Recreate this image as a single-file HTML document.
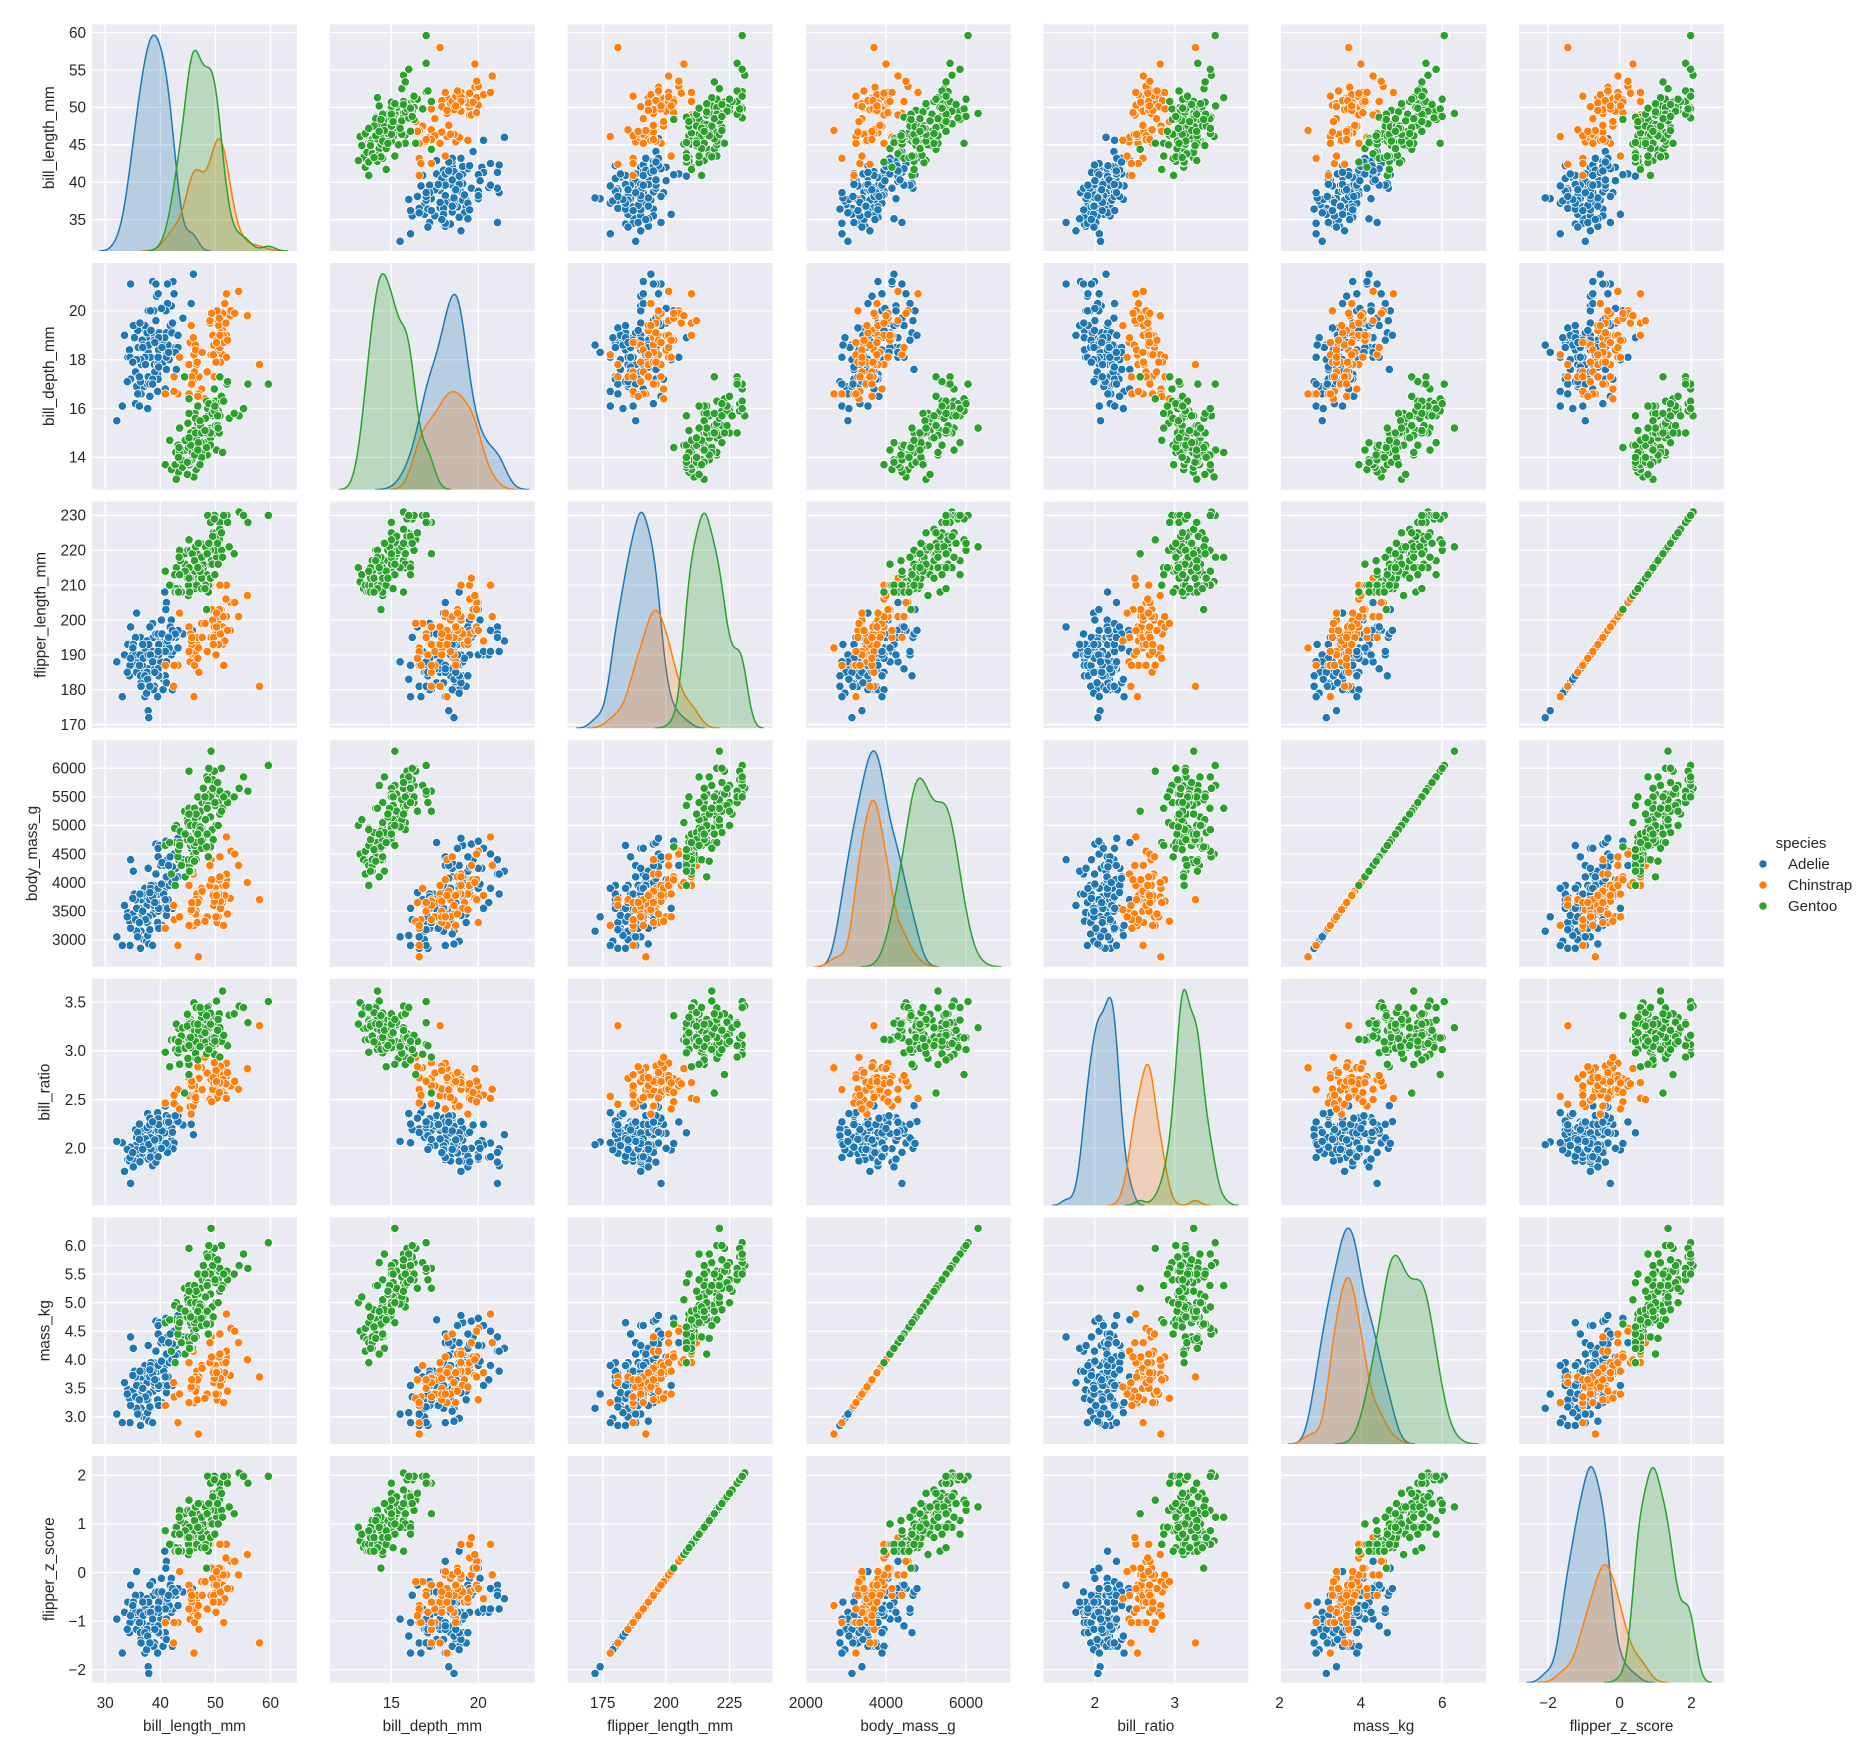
<!DOCTYPE html>
<html><head><meta charset="utf-8"><title>Penguins pairplot</title>
<style>
html,body{margin:0;padding:0;background:#fff;}
svg{display:block;font-family:"Liberation Sans","DejaVu Sans",sans-serif;}
</style></head>
<body>
<svg id="chart" width="1867" height="1750" viewBox="0 0 1867 1750" xmlns="http://www.w3.org/2000/svg">
<g id="legend">
<text x="1801" y="848" text-anchor="middle" font-size="15" fill="#262626">species</text>
<g><circle cx="1763" cy="864" r="4.2" fill="#1f77b4" stroke="#fff" stroke-width="0.8"/><text x="1788" y="869" font-size="15" fill="#262626">Adelie</text></g>
<g><circle cx="1763" cy="885" r="4.2" fill="#ff7f0e" stroke="#fff" stroke-width="0.8"/><text x="1788" y="890" font-size="15" fill="#262626">Chinstrap</text></g>
<g><circle cx="1763" cy="906" r="4.2" fill="#2ca02c" stroke="#fff" stroke-width="0.8"/><text x="1788" y="911" font-size="15" fill="#262626">Gentoo</text></g>
</g>
</svg>
<script>
// data: [bill_length_mm, bill_depth_mm, flipper_length_mm, body_mass_g]
const adelie = [
[39.1,18.7,181,3750],[39.5,17.4,186,3800],[40.3,18.0,195,3250],[36.7,19.3,193,3450],[39.3,20.6,190,3650],
[38.9,17.8,181,3625],[39.2,19.6,195,4675],[34.1,18.1,193,3475],[42.0,20.2,190,4250],[37.8,17.1,186,3300],
[37.8,17.3,180,3700],[41.1,17.6,182,3200],[38.6,21.2,191,3800],[34.6,21.1,198,4400],[36.6,17.8,185,3700],
[38.7,19.0,195,3450],[42.5,20.7,197,4500],[34.4,18.4,184,3325],[46.0,21.5,194,4200],[37.8,18.3,174,3400],
[37.7,18.7,180,3600],[35.9,19.2,189,3800],[38.2,18.1,185,3950],[38.8,17.2,180,3800],[35.3,18.9,187,3800],
[40.6,18.6,183,3550],[40.5,17.9,187,3200],[37.9,18.6,172,3150],[40.5,18.9,180,3950],[39.5,16.7,178,3250],
[37.2,18.1,178,3900],[39.5,17.8,188,3300],[40.9,18.9,184,3900],[36.4,17.0,195,3325],[39.2,21.1,196,4150],
[38.8,20.0,190,3950],[42.2,18.5,180,3550],[37.6,19.3,181,3300],[39.8,19.1,184,4650],[36.5,18.0,182,3150],
[40.8,18.4,195,3900],[36.0,18.5,186,3100],[44.1,19.7,196,4400],[37.0,16.9,185,3000],[39.6,18.8,190,4600],
[41.1,19.0,182,3425],[37.5,18.9,179,2975],[42.3,21.2,191,4150],[39.6,17.7,186,3500],[40.1,18.9,188,4300],
[35.0,17.9,190,3450],[42.0,19.5,200,4050],[34.5,18.1,187,2900],[41.4,18.6,191,3700],[39.0,17.5,186,3550],
[40.6,18.8,193,3800],[36.5,16.6,181,2850],[37.6,19.1,194,3750],[35.7,16.9,185,3150],[41.3,21.1,195,4400],
[37.6,17.0,185,3600],[41.1,18.2,192,4050],[36.4,17.1,184,2850],[41.6,18.0,192,3950],[35.5,16.2,195,3350],
[41.1,19.1,188,4100],[35.9,16.6,190,3050],[41.8,19.4,198,4450],[33.5,19.0,190,3600],[39.7,18.4,190,3900],
[39.6,17.2,196,3550],[45.8,18.9,197,4150],[35.5,17.5,190,3700],[42.8,18.5,195,4250],[40.9,16.8,191,3700],
[37.2,19.4,184,3900],[36.2,16.1,187,3550],[42.1,19.1,195,4000],[34.6,17.2,189,3200],[42.9,17.6,196,4700],
[36.7,18.8,187,3800],[35.1,19.4,193,4200],[37.3,17.8,191,3350],[41.3,20.3,194,3550],[36.3,19.5,190,3800],
[36.9,18.6,189,3500],[38.3,19.2,189,3950],[38.9,18.8,190,3600],[35.7,18.0,202,3550],[41.1,18.1,205,4300],
[34.0,17.1,185,3400],[39.6,18.1,186,4450],[36.2,17.3,187,3300],[40.8,18.9,208,4300],[38.1,18.6,190,3700],
[40.3,18.5,196,4350],[33.1,16.1,178,2900],[43.2,18.5,192,4100],[35.0,17.9,192,3725],[41.0,20.0,203,4725],
[37.7,16.0,183,3075],[37.8,20.0,190,4250],[37.9,18.6,193,2925],[39.7,18.9,184,3550],[38.6,17.2,199,3750],
[38.2,20.0,190,3900],[38.1,17.0,181,3175],[43.2,19.0,197,4775],[38.1,16.5,198,3825],[45.6,20.3,191,4600],
[39.7,17.7,193,3200],[42.2,19.5,197,4275],[39.6,20.7,191,3900],[42.7,18.3,196,4075],[32.1,15.5,188,3050],
[38.6,17.0,188,2900],[40.2,20.1,200,3975],[36.8,18.5,193,3500],[41.5,18.3,195,4300],[39.0,18.7,185,3650]
];
const chinstrap = [
[46.5,17.9,192,3500],[50.0,19.5,196,3900],[51.3,19.2,193,3650],[45.4,18.7,188,3525],[52.7,19.8,197,3725],
[45.2,17.8,198,3950],[46.1,18.2,178,3250],[51.3,18.2,197,3750],[46.0,18.9,195,4150],[51.3,19.9,198,3700],
[46.6,17.8,193,3800],[51.7,20.3,194,3775],[47.0,17.3,185,3700],[52.0,18.1,201,4050],[45.9,17.1,190,3575],
[50.5,19.6,201,4050],[50.3,20.0,197,3300],[58.0,17.8,181,3700],[46.4,18.6,190,3450],[49.2,18.2,195,4400],
[42.4,17.3,181,3600],[48.5,17.5,191,3400],[43.2,16.6,187,2900],[50.6,19.4,193,3800],[46.7,17.9,195,3300],
[52.0,19.0,197,4150],[50.5,18.4,200,3400],[49.5,19.0,200,3800],[46.4,18.4,191,3700],[52.8,20.0,205,4550],
[40.9,16.6,187,3200],[54.2,20.8,201,4300],[42.5,16.7,187,3350],[51.0,18.8,203,4100],[49.7,18.6,195,3600],
[47.5,16.8,199,3900],[47.6,18.3,195,3850],[52.0,20.7,210,4800],[46.9,16.6,192,2700],[53.5,19.9,205,4500],
[49.0,19.5,210,3950],[46.2,17.5,187,3650],[50.9,19.1,196,3550],[45.5,17.0,196,3500],[50.9,17.9,196,3675],
[50.8,18.5,201,4450],[50.1,17.9,190,3400],[49.0,19.6,212,4300],[51.5,18.7,187,3250],[49.8,17.3,198,3675],
[48.1,16.4,199,3325],[51.4,19.0,201,3950],[45.7,17.3,193,3600],[50.7,19.7,203,4050],[42.5,17.3,187,3350],
[52.2,18.8,197,3450],[45.2,16.6,191,3250],[49.3,19.9,203,4050],[50.2,18.8,202,3800],[45.6,19.4,194,3525],
[51.9,19.5,206,3950],[46.8,16.5,189,3650],[45.7,17.0,195,3650],[55.8,19.8,207,4000],[43.5,18.1,202,3400],
[49.6,18.2,193,3775],[50.8,19.0,210,4100],[50.2,18.7,198,3775]
];
const gentoo = [
[46.1,13.2,211,4500],[50.0,16.3,230,5700],[48.7,14.1,210,4450],[50.0,15.2,218,5700],[47.6,14.5,215,5400],
[46.5,13.5,210,4550],[45.4,14.6,211,4800],[46.7,15.3,219,5200],[43.3,13.4,209,4400],[46.8,15.4,215,5150],
[40.9,13.7,214,4650],[49.0,16.1,216,5550],[45.5,13.7,214,4650],[48.4,14.6,213,5850],[45.8,14.6,210,4200],
[49.3,15.7,217,5850],[42.0,13.5,210,4150],[49.2,15.2,221,6300],[46.2,14.5,209,4800],[48.7,15.1,222,5350],
[50.2,14.3,218,5700],[45.1,14.5,215,5000],[46.5,14.5,213,4400],[46.3,15.8,215,5050],[42.9,13.1,215,5000],
[46.1,15.1,215,5100],[44.5,14.3,216,4100],[47.8,15.0,215,5650],[48.2,14.3,210,4600],[50.0,15.3,220,5550],
[47.3,15.3,222,5250],[42.8,14.2,209,4700],[45.1,14.5,207,5050],[59.6,17.0,230,6050],[49.1,14.8,220,5150],
[48.4,16.3,220,5400],[42.6,13.7,213,4950],[44.4,17.3,219,5250],[44.0,13.6,208,4350],[48.7,15.7,208,5350],
[42.7,13.7,208,3950],[49.6,16.0,225,5700],[45.3,13.7,210,4300],[49.6,15.0,216,4750],[50.5,15.9,222,5550],
[43.6,13.9,217,4900],[45.5,13.9,210,4200],[50.5,15.9,225,5400],[44.9,13.3,213,5100],[45.2,15.8,215,5300],
[46.6,14.2,210,4850],[48.5,14.1,220,5300],[45.1,14.4,210,4400],[50.1,15.0,225,5000],[46.5,14.4,217,4900],
[45.0,15.4,220,5050],[43.8,13.9,208,4300],[45.5,15.0,220,5000],[43.2,14.5,208,4450],[50.4,15.3,224,5550],
[45.3,13.8,208,4200],[46.2,14.9,221,5300],[45.7,13.9,214,4400],[54.3,15.7,231,5650],[45.8,14.2,219,4700],
[49.8,16.8,230,5700],[46.2,14.4,214,4650],[49.5,16.2,229,5800],[43.5,14.2,220,4700],[50.7,15.0,223,5550],
[47.7,15.0,216,4750],[46.4,15.6,221,5000],[48.2,15.6,221,5100],[46.5,14.8,217,5200],[46.4,15.0,216,4700],
[48.6,16.0,230,5800],[47.5,14.2,209,4600],[51.1,16.3,220,6000],[45.2,13.8,215,4750],[45.2,16.4,223,5950],
[49.1,14.5,212,4625],[52.5,15.6,221,5450],[47.4,14.6,212,4725],[50.0,15.9,224,5350],[44.9,13.8,212,4750],
[50.8,17.3,228,5600],[43.4,14.4,218,4600],[51.3,14.2,218,5300],[47.5,14.0,212,4875],[52.1,17.0,230,5550],
[47.5,15.0,218,4950],[52.2,17.1,228,5400],[45.5,14.5,212,4750],[49.5,16.1,224,5650],[44.5,14.7,214,4850],
[50.8,15.7,226,5200],[49.4,15.8,216,4925],[46.9,14.6,222,4875],[48.4,14.4,203,4625],[51.1,16.5,225,5250],
[48.5,15.0,219,4850],[55.9,17.0,228,5600],[47.2,15.5,215,4975],[49.1,15.0,228,5500],[46.8,16.1,215,5500],
[41.7,14.7,210,4700],[53.4,15.8,219,5500],[43.3,14.0,208,4575],[48.1,15.1,209,5500],[50.5,15.2,216,5000],
[49.8,15.9,229,5950],[43.5,15.2,213,4650],[51.5,16.3,230,5500],[46.2,14.1,217,4375],[55.1,16.0,230,5850],
[48.8,16.2,222,6000],[47.2,13.7,214,4925],[46.8,14.3,215,4850],[50.4,15.7,222,5750],[45.2,14.8,212,5200],
[49.9,16.1,213,5400]
];
const speciesNames = ["Adelie","Chinstrap","Gentoo"];
const speciesColors = ["#1f77b4","#ff7f0e","#2ca02c"];
const varNames = ["bill_length_mm","bill_depth_mm","flipper_length_mm","body_mass_g","bill_ratio","mass_kg","flipper_z_score"];
const colLimits = [[27.6,64.8],[11.46,23.25],[161.2,242],[1990,7110],[1.355,3.92],[2.04,7.08],[-2.81,2.91]];
const rowLimits = [[30.8,61.1],[12.68,21.96],[168.97,233.96],[2526,6492],[1.414,3.739],[2.526,6.492],[-2.265,2.397]];
const tickVals = [
 [30,35,40,45,50,55,60],[14,16,18,20],[170,180,190,200,210,220,230],[3000,3500,4000,4500,5000,5500,6000],
 [2.0,2.5,3.0,3.5],[3.0,3.5,4.0,4.5,5.0,5.5,6.0],[-2,-1,0,1,2]];
const xTickVals = [[30,40,50,60],[15,20],[175,200,225],[2000,4000,6000],[2,3],[2,4,6],[-2,0,2]];

const NS="http://www.w3.org/2000/svg";
const svg=document.getElementById('chart');
const PL=92, PW=205, PPX=237.83, PT=24.4, PH=226.6, PPY=238.6;
function mk(tag,attrs,parent){const e=document.createElementNS(NS,tag);for(const k in attrs)e.setAttribute(k,attrs[k]);(parent||svg).appendChild(e);return e;}

const allFlip=[...adelie,...chinstrap,...gentoo].map(r=>r[2]);
const fMean=allFlip.reduce((a,b)=>a+b,0)/allFlip.length;
const fStd=Math.sqrt(allFlip.reduce((a,b)=>a+(b-fMean)*(b-fMean),0)/(allFlip.length-1));
function derive(r){return [r[0],r[1],r[2],r[3],r[0]/r[1],r[3]/1000,(r[2]-fMean)/fStd];}
const groups=[adelie.map(derive),chinstrap.map(derive),gentoo.map(derive)];
const N=groups.reduce((a,g)=>a+g.length,0);

function fmtY(v,vi){ if(vi===4||vi===5) return v.toFixed(1); return (v<0?"\u2212"+Math.abs(v):String(v)); }
function fmtX(v){ return (v<0?"\u2212"+Math.abs(v):String(v)); }
function xScale(c,v){const l=colLimits[c];return PL+c*PPX+(v-l[0])/(l[1]-l[0])*PW;}
function yScale(r,v){const l=rowLimits[r];const top=PT+r*PPY;return top+PH-(v-l[0])/(l[1]-l[0])*PH;}

function kde(vals){
 const n=vals.length;const m=vals.reduce((a,b)=>a+b,0)/n;
 const sd=Math.sqrt(vals.reduce((a,b)=>a+(b-m)*(b-m),0)/(n-1));
 const bw=sd*Math.pow(n,-0.2);
 const lo=Math.min(...vals)-3*bw, hi=Math.max(...vals)+3*bw;
 const xs=[],ys=[];
 for(let i=0;i<200;i++){const x=lo+(hi-lo)*i/199;let s=0;for(const v of vals){const z=(x-v)/bw;s+=Math.exp(-0.5*z*z);}
  xs.push(x);ys.push(s/(n*bw*Math.sqrt(2*Math.PI))*(n/N));}
 return {xs,ys};
}

for(let r=0;r<7;r++){
 for(let c=0;c<7;c++){
  const x0=PL+c*PPX, y0=PT+r*PPY;
  const g=mk('g',{});
  
  
  const bg=mk('rect',{x:x0,y:y0,width:PW,height:PH,fill:'#eaeaf2'},g);
  
  
  const clipId='clip'+r+'_'+c;
  const cp=mk('clipPath',{id:clipId},g);mk('rect',{x:x0,y:y0,width:PW,height:PH},cp);
  for(const t of xTickVals[c]){const X=xScale(c,t);if(X<x0-0.5||X>x0+PW+0.5)continue;
   const gl=mk('line',{x1:X,x2:X,y1:y0,y2:y0+PH,stroke:'#fff','stroke-width':1.3},g);
   }
  for(const t of tickVals[r]){const Y=yScale(r,t);if(Y<y0-0.5||Y>y0+PH+0.5)continue;
   const gl=mk('line',{x1:x0,x2:x0+PW,y1:Y,y2:Y,stroke:'#fff','stroke-width':1.3},g);
   }
  const inner=mk('g',{'clip-path':'url(#'+clipId+')'},g);
  if(r===c){
   const curves=groups.map(gr=>kde(gr.map(d=>d[c])));
   let ymax=0;curves.forEach(k=>k.ys.forEach(v=>{if(v>ymax)ymax=v;}));
   ymax*=1.05;
   curves.forEach((k,si)=>{
    const pts=k.xs.map((xv,i)=>[xScale(c,xv),y0+PH-k.ys[i]/ymax*PH]);
    const dLine='M'+pts.map(p=>p[0].toFixed(2)+','+p[1].toFixed(2)).join('L');
    const dFill=dLine+'L'+pts[pts.length-1][0].toFixed(2)+','+(y0+PH)+'L'+pts[0][0].toFixed(2)+','+(y0+PH)+'Z';
    const f=mk('path',{d:dFill,fill:speciesColors[si],'fill-opacity':0.25,stroke:'none'},inner);
    
    
    const l=mk('path',{d:dLine,fill:'none',stroke:speciesColors[si],'stroke-width':1.5},inner);
    
    
   });
  } else {
   groups.forEach((gr,si)=>{gr.forEach(d=>{
    const p=mk('circle',{cx:xScale(c,d[c]).toFixed(2),cy:yScale(r,d[r]).toFixed(2),r:4.2,fill:speciesColors[si],stroke:'#fff','stroke-width':0.8},inner);
    
    
   });});
  }
  if(c===0){
   let maxW=0;
   for(const t of tickVals[r]){const Y=yScale(r,t);if(Y<y0-0.5||Y>y0+PH+0.5)continue;
    const s=fmtY(t,r);
    const tl=mk('text',{x:86,y:Y+5.3,'text-anchor':'end','font-size':15.3,fill:'#262626'});
    tl.textContent=s;
    
    let w=0;for(const ch of s){w+=(ch==='.')?4.3:8.5;} if(w>maxW)maxW=w;}
   const lx=86-maxW-15;
   const yl=mk('text',{x:0,y:0,'text-anchor':'middle','font-size':15.3,fill:'#262626',transform:'translate('+lx+','+(y0+PH/2)+') rotate(-90)'});
   yl.textContent=varNames[r];
   
  }
  if(r===6){
   for(const t of xTickVals[c]){const X=xScale(c,t);if(X<x0-3||X>x0+PW+3)continue;
    const tl=mk('text',{x:X,y:1708,'text-anchor':'middle','font-size':15.3,fill:'#262626'});
    tl.textContent=fmtX(t);
    }
   const xl=mk('text',{x:x0+PW/2,y:1731,'text-anchor':'middle','font-size':15.3,fill:'#262626'});
   xl.textContent=varNames[c];
   
  }
 }
}
svg.appendChild(document.getElementById('legend'));
</script>
</body></html>
